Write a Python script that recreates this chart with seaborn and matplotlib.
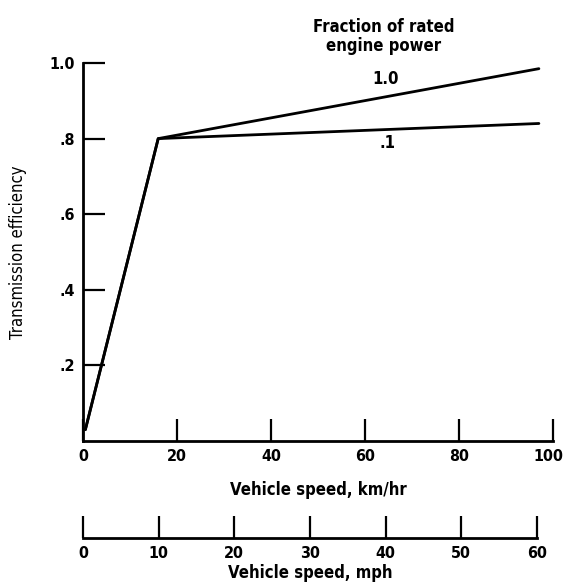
import numpy as np
import pandas as pd
import matplotlib
matplotlib.use("Agg")
import matplotlib.pyplot as plt
import matplotlib.transforms as mtransforms
import seaborn as sns

# transmission efficiency vs vehicle speed, two engine power fractions
speed_kmh = [0.5, 16, 97]
eff_full = [0.03, 0.80, 0.985]
eff_tenth = [0.03, 0.80, 0.84]
power_labels = ["1.0", ".1"]

y_ticks = [0.2, 0.4, 0.6, 0.8, 1.0]
y_ticklabels = [".2", ".4", ".6", ".8", "1.0"]
kmh_ticks = [0, 20, 40, 60, 80, 100]
mph_ticks = [0, 10, 20, 30, 40, 50, 60]

df = pd.DataFrame({
    "speed": speed_kmh * 2,
    "eff": eff_full + eff_tenth,
    "power": [power_labels[0]] * 3 + [power_labels[1]] * 3,
})

sns.set_style("white")
plt.rcParams["font.family"] = ["DejaVu Sans"]
plt.rcParams["font.stretch"] = "condensed"
plt.rcParams["font.weight"] = "bold"
plt.rcParams["axes.labelweight"] = "bold"
plt.rcParams["text.color"] = "black"
plt.rcParams["axes.labelcolor"] = "black"

fig = plt.figure(figsize=(5.66, 5.87), dpi=100)
ax = fig.add_axes([83 / 566, 1 - 441 / 587, 470 / 566, 378 / 587])

sns.lineplot(data=df, x="speed", y="eff", units="power", estimator=None,
             color="black", lw=2, legend=False, ax=ax)

ax.set_xlim(0, 100)
ax.set_ylim(0, 1.0)
ax.set_xticks(kmh_ticks)
ax.set_yticks(y_ticks)
ax.set_yticklabels(y_ticklabels)
for s in ["top", "right"]:
    ax.spines[s].set_visible(False)
for s in ["left", "bottom"]:
    ax.spines[s].set_linewidth(2)
    ax.spines[s].set_color("black")
ax.tick_params(bottom=True, left=True, direction="in", length=16, width=1.6,
               labelsize=11.5, pad=6, colors="black")
ax.set_xlabel("Vehicle speed, km/hr", fontsize=12, labelpad=12)
ax.set_ylabel("Transmission efficiency", fontsize=12, labelpad=16,
              fontweight="normal")

# nudge the "100" label a bit left so it stays inside the figure
last = ax.get_xticklabels()[-1]
last.set_transform(last.get_transform() +
                   mtransforms.ScaledTranslation(-3 / 72, 0, fig.dpi_scale_trans))

ax.text(64, 1.07, "Fraction of rated\nengine power", ha="center", va="center",
        fontsize=12, linespacing=1.1, clip_on=False)
ax.text(64.3, 0.958, power_labels[0], ha="center", va="center", fontsize=12)
ax.text(64.7, 0.788, power_labels[1], ha="center", va="center", fontsize=12)

# second scale in mph
ax2 = fig.add_axes([83 / 566, 1 - 537.7 / 587, 454 / 566, 0.0001])
ax2.set_xlim(0, 60)
ax2.set_yticks([])
ax2.set_xticks(mph_ticks)
for s in ["top", "right", "left"]:
    ax2.spines[s].set_visible(False)
ax2.spines["bottom"].set_linewidth(2)
ax2.spines["bottom"].set_color("black")
ax2.tick_params(bottom=True, direction="in", length=16, width=1.6,
                labelsize=11.5, pad=6, colors="black")
ax2.set_xlabel("Vehicle speed, mph", fontsize=12, labelpad=2)
ax2.patch.set_visible(False)

fig.savefig("out.png", dpi=100)
